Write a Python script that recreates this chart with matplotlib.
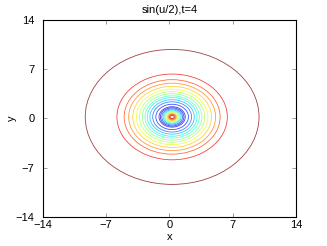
import matplotlib
matplotlib.use("Agg")
import matplotlib.pyplot as plt
from matplotlib.patches import Circle

plt.rcParams['font.family'] = ['Liberation Sans', 'DejaVu Sans']

# contour rings: radius (data units) and level (0..1 on jet)
center = (0.3, 0.2)
ring_radius = [9.6, 6.1, 5.3, 4.8, 4.35, 3.95, 3.6, 3.3, 3.0, 2.75, 2.45, 2.15, 1.8,
               1.45, 1.3, 1.15, 1.0, 0.88, 0.76, 0.64, 0.52, 0.42, 0.32, 0.22]
ring_level = [1.0, 0.9, 0.84, 0.78, 0.7, 0.63, 0.56, 0.5, 0.42, 0.36, 0.3, 0.22, 0.15,
              0.08, 0.1, 0.2, 0.3, 0.4, 0.5, 0.6, 0.7, 0.8, 0.88, 0.95]
ticks = [-14, -7, 0, 7, 14]
tick_labels = ['\u221214', '\u22127', '0', '7', '14']

fig = plt.figure(figsize=(3.27, 2.46), dpi=100)
ax = fig.add_axes([0.1306, 0.119, 0.775, 0.80])
cmap = plt.get_cmap('jet')

for r, lv in zip(ring_radius, ring_level):
    ax.add_patch(Circle(center, r, fill=False, edgecolor=cmap(lv),
                        linewidth=0.6, alpha=0.75))

ax.set_xlim(-14, 14)
ax.set_ylim(-14, 14)
ax.set_xticks(ticks)
ax.set_yticks(ticks)
ax.set_xticklabels(tick_labels)
ax.set_yticklabels(tick_labels)
ax.tick_params(direction='in', length=3, width=0.5, top=True, right=True,
               labelsize=8, color='#777777')
ax.tick_params(axis='x', pad=2.5)
ax.tick_params(axis='y', pad=6)
for s in ax.spines.values():
    s.set_linewidth(0.8)

ax.set_title('sin(u/2),t=4', fontsize=8, pad=5)
ax.set_xlabel('x', fontsize=8, labelpad=1.5)
ax.set_ylabel('y', fontsize=8, labelpad=-1)

fig.savefig('out.png', dpi=100)
